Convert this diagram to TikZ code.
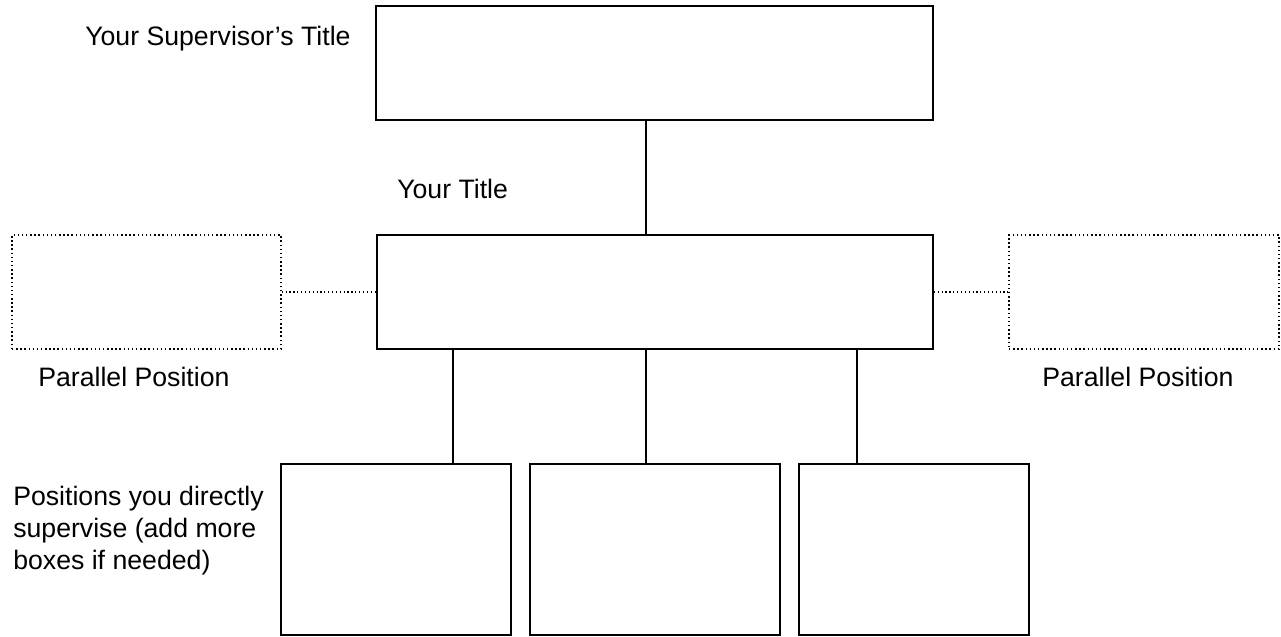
\documentclass[tikz,border=0pt]{standalone}
\usepackage{fontspec}
\setmainfont{Liberation Sans}
\usetikzlibrary{calc}
\begin{document}
\begin{tikzpicture}[x=0.75pt,y=-0.75pt,
  solidbox/.style={draw=black,line width=1.3pt,rectangle,inner sep=0pt},
  dotbox/.style={draw=black,line width=1.1pt,dotted,rectangle,inner sep=0pt},
  link/.style={draw=black,line width=0.9pt},
  dotlink/.style={draw=black,line width=0.9pt,dotted},
  lbl/.style={anchor=base west,inner sep=0pt,font=\fontsize{20pt}{24pt}\selectfont},
]
\useasboundingbox (0,0) rectangle (1281,636);
\node[solidbox,minimum width=557*0.75pt,minimum height=114*0.75pt] (top) at (654.5,63) {};
\node[solidbox,minimum width=556*0.75pt,minimum height=114*0.75pt] (mid) at (655,292) {};
\node[dotbox,minimum width=269*0.75pt,minimum height=114*0.75pt] (lp) at (146.5,292) {};
\node[dotbox,minimum width=270*0.75pt,minimum height=114*0.75pt] (rp) at (1144,292) {};
\node[solidbox,minimum width=230*0.75pt,minimum height=171*0.75pt] (b1) at (396,549.5) {};
\node[solidbox,minimum width=250*0.75pt,minimum height=171*0.75pt] (b2) at (655,549.5) {};
\node[solidbox,minimum width=230*0.75pt,minimum height=171*0.75pt] (b3) at (914,549.5) {};

\coordinate (c0) at ($(top.south)+(-8.5,0)$);
\coordinate (c1) at ($(b1.north)+(57,0)$);
\coordinate (c2) at ($(b2.north)+(-9,0)$);
\coordinate (c3) at ($(b3.north)+(-57,0)$);
\draw[link] (c0) -- (c0 |- mid.north);
\draw[link] (c1) -- (c1 |- mid.south);
\draw[link] (c2) -- (c2 |- mid.south);
\draw[link] (c3) -- (c3 |- mid.south);
\draw[dotlink] (lp.east) -- (mid.west);
\draw[dotlink] (mid.east) -- (rp.west);

\node[lbl] (t1) at (85,45) {Your Supervisor’s Title};
\node[lbl] (t2) at (397,198) {Your Title};
\node[lbl] (t3) at (38,386) {Parallel Position};
\node[lbl] (t4) at (1042,386) {Parallel Position};
\node[lbl,align=left] (t5) at (13,569) {Positions you directly\\supervise (add more\\boxes if needed)};
\end{tikzpicture}
\end{document}
